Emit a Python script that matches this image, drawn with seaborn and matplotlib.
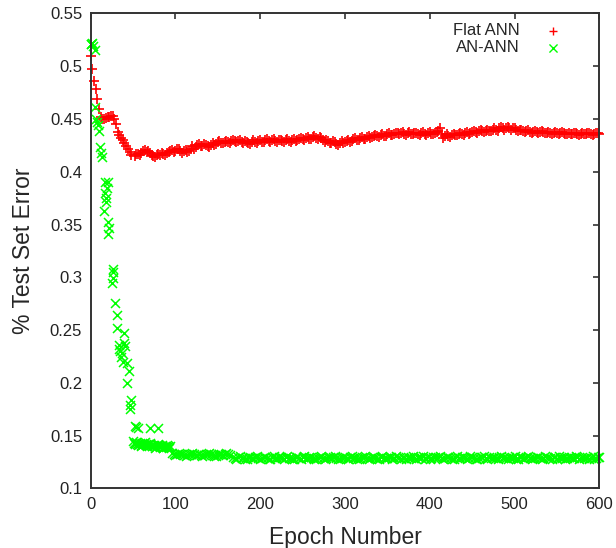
import matplotlib
matplotlib.use("Agg")
import matplotlib.pyplot as plt
import seaborn as sns
from matplotlib.ticker import FuncFormatter, MultipleLocator

# =============== DADOS ===============

# Flat ANN: inicio a cada 2 epocas, depois a cada 4
flat_epoch = list(range(0, 50, 2)) + list(range(52, 601, 4))
flat_err = [
    0.510, 0.497, 0.486, 0.478, 0.469, 0.459, 0.452, 0.450, 0.450, 0.451,
    0.452, 0.452, 0.453, 0.453, 0.450, 0.445, 0.438, 0.435, 0.432, 0.430,
    0.427, 0.424, 0.422, 0.419, 0.416,
    # 52 .. 600
    0.415, 0.417, 0.418, 0.421, 0.420, 0.416, 0.414, 0.417, 0.418, 0.416,
    0.419, 0.421, 0.420, 0.422, 0.418, 0.421, 0.420, 0.424, 0.423, 0.426,
    0.424, 0.425, 0.423, 0.427, 0.426, 0.429, 0.427, 0.429, 0.427, 0.430,
    0.428, 0.430, 0.427, 0.428, 0.426, 0.430, 0.427, 0.430, 0.428, 0.431,
    0.428, 0.431, 0.428, 0.430, 0.428, 0.431, 0.428, 0.431, 0.430, 0.432,
    0.430, 0.433, 0.431, 0.434, 0.431, 0.432, 0.428, 0.429, 0.427, 0.428,
    0.425, 0.429, 0.428, 0.430, 0.429, 0.432, 0.430, 0.433, 0.431, 0.434,
    0.433, 0.435, 0.433, 0.436, 0.434, 0.437, 0.435, 0.437, 0.436, 0.438,
    0.435, 0.438, 0.436, 0.437, 0.435, 0.438, 0.435, 0.438, 0.436, 0.438,
    0.441, 0.432, 0.436, 0.433, 0.436, 0.435, 0.437, 0.435, 0.438, 0.437,
    0.439, 0.437, 0.440, 0.438, 0.440, 0.439, 0.441, 0.439, 0.442, 0.440,
    0.442, 0.440, 0.441, 0.439, 0.440, 0.438, 0.440, 0.437, 0.439, 0.437,
    0.439, 0.437, 0.438, 0.436, 0.438, 0.436, 0.438, 0.436, 0.437, 0.436,
    0.437, 0.435, 0.437, 0.436, 0.437, 0.435, 0.437, 0.436,
]
# Flat ANN: epocas intermediarias (54, 58, ..., 598)
flat_mid_epoch = list(range(54, 601, 4))
flat_mid_err = [
    0.417, 0.416, 0.420, 0.419, 0.418, 0.415, 0.416, 0.416, 0.417, 0.418,
    0.420, 0.419, 0.422, 0.420, 0.420, 0.419, 0.422, 0.422, 0.425, 0.424,
    0.426, 0.424, 0.425, 0.425, 0.428, 0.427, 0.428, 0.428, 0.429, 0.429,
    0.429, 0.428, 0.429, 0.427, 0.428, 0.428, 0.429, 0.428, 0.430, 0.429,
    0.430, 0.429, 0.430, 0.429, 0.430, 0.429, 0.430, 0.429, 0.431, 0.431,
    0.432, 0.431, 0.433, 0.432, 0.433, 0.430, 0.430, 0.427, 0.429, 0.426,
    0.427, 0.427, 0.429, 0.428, 0.431, 0.430, 0.432, 0.431, 0.433, 0.432,
    0.434, 0.434, 0.435, 0.434, 0.436, 0.435, 0.436, 0.437, 0.437, 0.436,
    0.437, 0.436, 0.437, 0.436, 0.437, 0.436, 0.437, 0.436, 0.437, 0.439,
    0.436, 0.434, 0.434, 0.435, 0.435, 0.436, 0.436, 0.437, 0.436, 0.438,
    0.438, 0.439, 0.439, 0.439, 0.439, 0.440, 0.440, 0.441, 0.441, 0.441,
    0.441, 0.441, 0.440, 0.440, 0.439, 0.439, 0.438, 0.438, 0.438, 0.438,
    0.438, 0.437, 0.437, 0.437, 0.437, 0.437, 0.437, 0.436, 0.436, 0.437,
    0.436, 0.436, 0.436, 0.437, 0.436, 0.436, 0.437,
]

# AN-ANN: pontos espalhados no inicio
an_early_epoch = [0, 1, 3, 5, 5, 7, 9, 10, 11, 12,
                  13, 17, 21, 17, 18, 18, 16, 21, 22, 20,
                  27, 27, 25, 29, 31, 31, 40, 33, 41, 35,
                  36, 38, 43, 45, 43, 48, 47, 47, 52, 56,
                  70, 80, 2, 8, 19, 26, 34, 37, 39, 54]
an_early_err = [0.521, 0.521, 0.519, 0.515, 0.461, 0.450, 0.444, 0.439, 0.423, 0.418,
                0.414, 0.390, 0.390, 0.380, 0.375, 0.371, 0.363, 0.352, 0.347, 0.341,
                0.308, 0.299, 0.295, 0.276, 0.264, 0.252, 0.247, 0.236, 0.235, 0.230,
                0.225, 0.220, 0.219, 0.211, 0.200, 0.184, 0.179, 0.175, 0.159, 0.157,
                0.157, 0.157, 0.522, 0.447, 0.385, 0.305, 0.232, 0.228, 0.238, 0.158]

# AN-ANN: patamares
an_band1_epoch = list(range(50, 95, 2))
an_band1_err = [0.145, 0.142, 0.144, 0.141, 0.143, 0.140, 0.142, 0.144, 0.140, 0.142,
                0.143, 0.140, 0.141, 0.138, 0.141, 0.142, 0.139, 0.141, 0.138, 0.140,
                0.141, 0.138, 0.140]
an_band1_mid_epoch = list(range(51, 94, 2))
an_band1_mid_err = [0.143, 0.143, 0.142, 0.142, 0.141, 0.141, 0.143, 0.142, 0.141, 0.142,
                    0.141, 0.140, 0.140, 0.139, 0.141, 0.140, 0.140, 0.139, 0.139, 0.139,
                    0.140, 0.139]
an_band2_epoch = list(range(96, 167, 4))
an_band2_err = [0.134, 0.132, 0.134, 0.133, 0.131, 0.133, 0.134, 0.132, 0.133, 0.131,
                0.133, 0.134, 0.132, 0.131, 0.133, 0.132, 0.134, 0.132]
an_band2_mid_epoch = list(range(98, 165, 4))
an_band2_mid_err = [0.133, 0.133, 0.133, 0.132, 0.132, 0.133, 0.133, 0.132, 0.132, 0.132,
                    0.133, 0.133, 0.131, 0.132, 0.133, 0.133, 0.133]
an_band3_epoch = list(range(168, 601, 4))
an_band3_err = [
    0.130, 0.128, 0.131, 0.129, 0.128, 0.130, 0.129, 0.131, 0.128, 0.130,
    0.129, 0.128, 0.131, 0.129, 0.130, 0.128, 0.131, 0.129, 0.128, 0.130,
    0.128, 0.131, 0.129, 0.130, 0.128, 0.129, 0.131, 0.128, 0.130, 0.129,
    0.131, 0.128, 0.129, 0.130, 0.128, 0.131, 0.129, 0.128, 0.130, 0.131,
    0.128, 0.130, 0.129, 0.128, 0.131, 0.129, 0.130, 0.128, 0.131, 0.129,
    0.130, 0.128, 0.129, 0.131, 0.128, 0.130, 0.131, 0.129, 0.128, 0.130,
    0.129, 0.131, 0.128, 0.130, 0.129, 0.128, 0.131, 0.129, 0.130, 0.128,
    0.131, 0.129, 0.128, 0.130, 0.131, 0.128, 0.129, 0.130, 0.128, 0.131,
    0.130, 0.128, 0.129, 0.131, 0.128, 0.130, 0.129, 0.131, 0.128, 0.129,
    0.130, 0.128, 0.131, 0.129, 0.128, 0.130, 0.131, 0.129, 0.128, 0.130,
    0.129, 0.131, 0.128, 0.130, 0.129, 0.128, 0.131, 0.129, 0.130,
]
an_band3_mid_epoch = list(range(170, 601, 4))
an_band3_mid_err = [
    0.129, 0.130, 0.129, 0.128, 0.130, 0.129, 0.130, 0.129, 0.129, 0.130,
    0.128, 0.130, 0.129, 0.130, 0.129, 0.130, 0.129, 0.128, 0.130, 0.129,
    0.130, 0.129, 0.130, 0.129, 0.128, 0.130, 0.129, 0.129, 0.130, 0.130,
    0.129, 0.128, 0.130, 0.129, 0.130, 0.129, 0.128, 0.129, 0.130, 0.129,
    0.129, 0.130, 0.128, 0.130, 0.129, 0.129, 0.130, 0.129, 0.130, 0.128,
    0.129, 0.130, 0.129, 0.129, 0.130, 0.129, 0.128, 0.130, 0.129, 0.130,
    0.130, 0.129, 0.129, 0.130, 0.128, 0.130, 0.129, 0.130, 0.129, 0.129,
    0.130, 0.128, 0.129, 0.130, 0.129, 0.130, 0.129, 0.129, 0.130, 0.129,
    0.129, 0.130, 0.129, 0.128, 0.130, 0.129, 0.130, 0.129, 0.129, 0.130,
    0.129, 0.129, 0.130, 0.129, 0.130, 0.128, 0.129, 0.130, 0.129, 0.130,
    0.129, 0.130, 0.129, 0.129, 0.130, 0.129, 0.128, 0.130,
]

flat_x = flat_epoch + flat_mid_epoch
flat_y = flat_err + flat_mid_err
an_x = (an_early_epoch + an_band1_epoch + an_band1_mid_epoch + an_band2_epoch
        + an_band2_mid_epoch + an_band3_epoch + an_band3_mid_epoch)
an_y = (an_early_err + an_band1_err + an_band1_mid_err + an_band2_err
        + an_band2_mid_err + an_band3_err + an_band3_mid_err)

x_ticks = [0, 100, 200, 300, 400, 500, 600]

# =============== ESTILO (parecido com gnuplot) ===============
sns.set_style("white")
plt.rcParams["font.family"] = ["Liberation Sans", "DejaVu Sans"]
plt.rcParams["xtick.direction"] = "in"
plt.rcParams["ytick.direction"] = "in"

fig = plt.figure(figsize=(6.16, 5.48), dpi=100)
ax = fig.add_axes([0.147, 0.1086, 0.826, 0.867])

sns.scatterplot(x=flat_x, y=flat_y, marker="+", color="#ff0000",
                s=44, linewidth=1.2, label="Flat ANN", ax=ax, clip_on=False)
sns.scatterplot(x=an_x, y=an_y, marker="x", color="#00ff00",
                s=42, linewidth=1.1, label="AN-ANN", ax=ax, clip_on=False)

ax.set_xlim(0, 600)
ax.set_ylim(0.1, 0.55)
ax.set_xticks(x_ticks)
ax.yaxis.set_major_locator(MultipleLocator(0.05))
ax.yaxis.set_major_formatter(FuncFormatter(lambda v, p: "{:g}".format(round(v, 2))))

for sp in ax.spines.values():
    sp.set_visible(True)
    sp.set_color("#333333")
    sp.set_linewidth(1.4)
ax.tick_params(axis="both", which="major", length=4.5, width=1.2, color="#333333",
               labelsize=12, pad=6, top=True, right=True, labelcolor="#222222")

ax.set_xlabel("Epoch Number", fontsize=16.5, labelpad=10)
ax.set_ylabel("% Test Set Error", fontsize=16.5, labelpad=11)

leg = ax.legend(loc="upper right", frameon=False, markerfirst=False, fontsize=12,
                handletextpad=1.0, handlelength=2.0, labelspacing=0.1,
                borderaxespad=0.6, bbox_to_anchor=(0.975, 1.014))
for h in leg.legend_handles:
    h.set_sizes([34])
    h.set_linewidth(1.0)

fig.savefig("out.png", dpi=100)
